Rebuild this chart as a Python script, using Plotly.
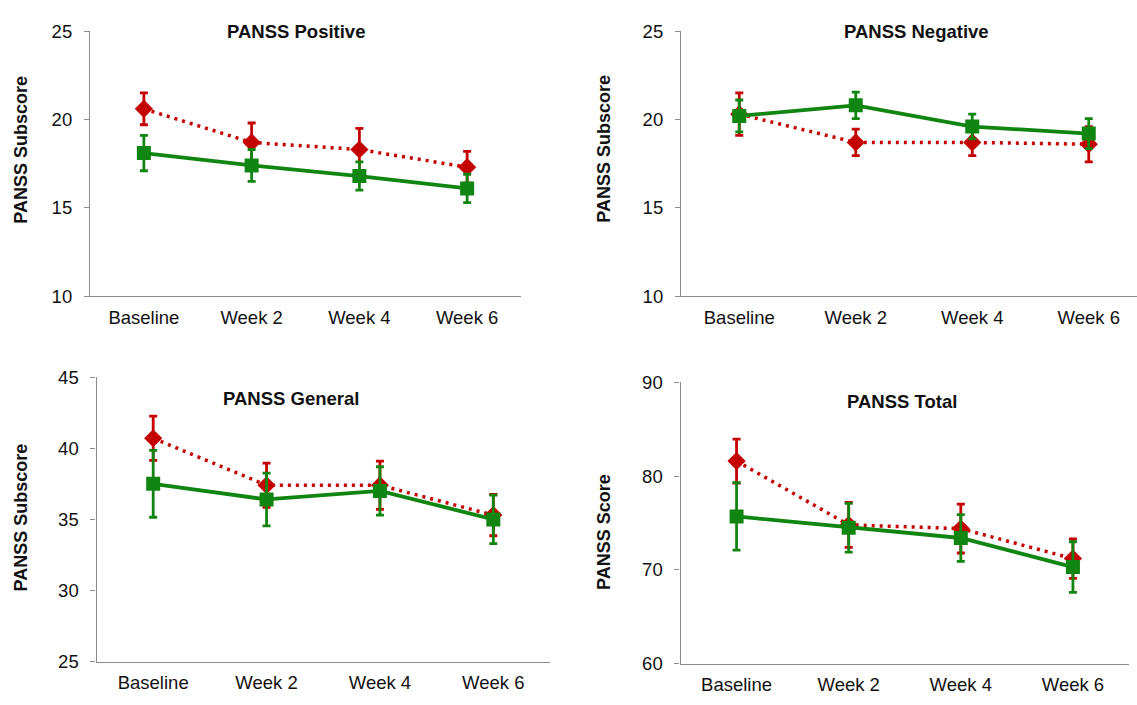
import plotly.graph_objects as go

W, H = 1137, 705

categories = ["Baseline", "Week 2", "Week 4", "Week 6"]

pos_red = [20.6, 18.7, 18.3, 17.3]
pos_red_err = [0.9, 1.1, 1.2, 0.9]
pos_green = [18.1, 17.4, 16.8, 16.1]
pos_green_err = [1.0, 0.9, 0.8, 0.8]

neg_red = [20.3, 18.7, 18.7, 18.6]
neg_red_err = [1.2, 0.75, 0.75, 1.0]
neg_green = [20.2, 20.8, 19.6, 19.2]
neg_green_err = [0.9, 0.75, 0.7, 0.85]

gen_red = [40.7, 37.4, 37.4, 35.3]
gen_red_err = [1.55, 1.55, 1.7, 1.45]
gen_green = [37.5, 36.4, 37.0, 35.0]
gen_green_err = [2.35, 1.85, 1.7, 1.7]

tot_red = [81.6, 74.8, 74.4, 71.2]
tot_red_err = [2.35, 2.4, 2.6, 2.1]
tot_green = [75.7, 74.5, 73.4, 70.3]
tot_green_err = [3.6, 2.6, 2.5, 2.7]

titles = ["PANSS Positive", "PANSS Negative", "PANSS General", "PANSS Total"]
ytitles = ["PANSS Subscore", "PANSS Subscore", "PANSS Subscore", "PANSS Score"]
yranges = [[10, 25], [10, 25], [25, 45], [60, 90]]
ydticks = [5, 5, 5, 10]

RED = "#C40000"
GREEN = "#118511"
AXIS = "#8c8c8c"
FONT = "Liberation Sans, Arial, sans-serif"

# panel geometry in pixels: (x0, x1, y_top, y_bottom)
panels = [
    (90, 521, 20.7, 294),
    (681, 1137, 20.7, 294),
    (96.5, 550, 377.3, 670.7),
    (680.5, 1129, 382.7, 672.7),
]
# x range end (panel 2 axis runs past the image edge)
xranges = [[-0.5, 3.5], [-0.5, 3.414], [-0.5, 3.5], [-0.5, 3.5]]

title_pos = [(296, 20.7), (916, 20.7), (291, 399), (902, 403)]
ytitle_pos = [(21, 143), (604, 142), (21, 522), (604, 537)]

data = [
    (pos_red, pos_red_err, pos_green, pos_green_err),
    (neg_red, neg_red_err, neg_green, neg_green_err),
    (gen_red, gen_red_err, gen_green, gen_green_err),
    (tot_red, tot_red_err, tot_green, tot_green_err),
]

fig = go.Figure()
layout = dict(
    width=W, height=H,
    margin=dict(l=0, r=0, t=0, b=0),
    paper_bgcolor="white", plot_bgcolor="rgba(0,0,0,0)",
    showlegend=False,
    font=dict(family=FONT, color="#111111"),
    annotations=[],
)

for i, (red, red_err, green, green_err) in enumerate(data):
    n = i + 1
    xa = "x" if n == 1 else f"x{n}"
    ya = "y" if n == 1 else f"y{n}"
    fig.add_trace(go.Scatter(
        x=categories, y=red, xaxis=xa, yaxis=ya, mode="lines+markers",
        name="Red series",
        line=dict(color=RED, width=3.5, dash="3px,5px"),
        marker=dict(symbol="diamond", size=14, color=RED),
        error_y=dict(type="data", array=red_err, visible=True,
                     color=RED, thickness=2.8, width=4),
    ))
    fig.add_trace(go.Scatter(
        x=categories, y=green, xaxis=xa, yaxis=ya, mode="lines+markers",
        name="Green series",
        line=dict(color=GREEN, width=3.8),
        marker=dict(symbol="square", size=14, color=GREEN),
        error_y=dict(type="data", array=green_err, visible=True,
                     color=GREEN, thickness=2.8, width=4),
    ))
    x0, x1, yt, yb = panels[i]
    xkey = "xaxis" if n == 1 else f"xaxis{n}"
    ykey = "yaxis" if n == 1 else f"yaxis{n}"
    layout[xkey] = dict(
        domain=[x0 / W, min(x1 / W, 1.0)], anchor=ya,
        type="category", range=xranges[i],
        showline=True, linecolor=AXIS, linewidth=1.2,
        showgrid=False, zeroline=False, ticks="",
        tickfont=dict(size=18.5, color="#111111", family=FONT),
        ticklabelstandoff=4,
    )
    layout[ykey] = dict(
        domain=[1 - yb / H, 1 - yt / H], anchor=xa,
        range=yranges[i], dtick=ydticks[i], tick0=0,
        showline=True, linecolor=AXIS, linewidth=1.2,
        showgrid=False, zeroline=False,
        ticks="outside", ticklen=5, tickcolor=AXIS, tickwidth=1.2,
        tickfont=dict(size=18.5, color="#111111", family=FONT),
        ticklabelstandoff=8,
    )
    tx, ty = title_pos[i]
    layout["annotations"].append(dict(
        x=tx / W, y=1 - ty / H, xref="paper", yref="paper",
        text=f"<b>{titles[i]}</b>", showarrow=False,
        xanchor="center", yanchor="middle",
        font=dict(size=18.5, family=FONT, color="#111111"),
    ))
    ax_, ay_ = ytitle_pos[i]
    layout["annotations"].append(dict(
        x=ax_ / W, y=1 - ay_ / H, xref="paper", yref="paper",
        text=f"<b>{ytitles[i]}</b>", showarrow=False, textangle=-90,
        xanchor="center", yanchor="middle",
        font=dict(size=18, family=FONT, color="#111111"),
    ))

fig.update_layout(**layout)
fig.write_html(
    "out.html",
    config={"displayModeBar": False},
    post_script="document.body.style.margin='0';document.body.style.overflow='hidden';",
)
